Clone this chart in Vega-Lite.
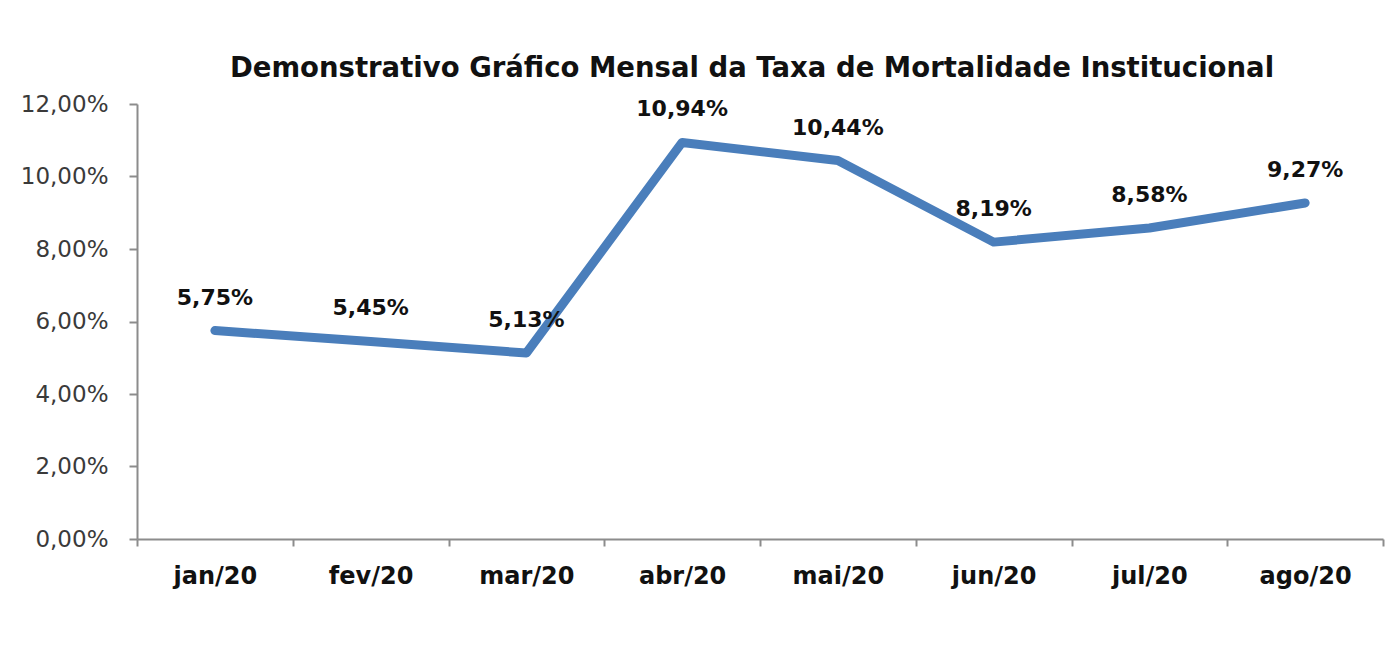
{
  "$schema": "https://vega.github.io/schema/vega-lite/v6.json",
  "autosize": "none",
  "width": 1246,
  "height": 435,
  "padding": {"left": 137, "top": 104, "right": 6, "bottom": 116},
  "background": "white",
  "config": {
    "locale": {"number": {"decimal": ",", "thousands": ".", "grouping": [3], "currency": ["R$", ""]}},
    "view": {"stroke": null},
    "font": "DejaVu Sans"
  },
  "title": {
    "text": "Demonstrativo Gráfico Mensal da Taxa de Mortalidade Institucional",
    "font": "DejaVu Sans",
    "fontSize": 27.5,
    "fontWeight": "bold",
    "color": "#111111",
    "anchor": "middle",
    "dx": -8,
    "offset": 11
  },
  "data": {
    "values": [
      {"mes": "jan/20", "taxa": 0.0575},
      {"mes": "fev/20", "taxa": 0.0545},
      {"mes": "mar/20", "taxa": 0.0513},
      {"mes": "abr/20", "taxa": 0.1094},
      {"mes": "mai/20", "taxa": 0.1044},
      {"mes": "jun/20", "taxa": 0.0819},
      {"mes": "jul/20", "taxa": 0.0858},
      {"mes": "ago/20", "taxa": 0.0927}
    ]
  },
  "encoding": {
    "x": {
      "field": "mes", "type": "nominal", "sort": null,
      "scale": {"paddingInner": 0, "paddingOuter": 0},
      "axis": {
        "title": null, "labelAngle": 0, "tickBand": "extent",
        "domainColor": "#8c8c8c", "domainWidth": 2, "tickColor": "#8c8c8c", "tickWidth": 2, "tickSize": 7,
        "labelFont": "DejaVu Sans", "labelFontSize": 24, "labelFontWeight": "bold", "labelColor": "#111111",
        "labelPadding": 18
      }
    },
    "y": {
      "field": "taxa", "type": "quantitative",
      "scale": {"domain": [0, 0.12]},
      "axis": {
        "title": null, "values": [0, 0.02, 0.04, 0.06, 0.08, 0.1, 0.12], "format": ".2%", "grid": false,
        "domainColor": "#8c8c8c", "domainWidth": 2, "tickColor": "#8c8c8c", "tickWidth": 2, "tickSize": 8,
        "labelFont": "DejaVu Sans", "labelFontSize": 23, "labelColor": "#3a3a3a", "labelPadding": 21
      }
    }
  },
  "layer": [
    {"mark": {"type": "line", "color": "#4A7EBB", "strokeWidth": 9, "strokeCap": "round", "strokeJoin": "round"}},
    {
      "mark": {"type": "text", "dy": -33, "font": "DejaVu Sans", "fontSize": 22, "fontWeight": "bold", "color": "#111111"},
      "encoding": {"text": {"field": "taxa", "type": "quantitative", "format": ".2%"}}
    }
  ]
}
